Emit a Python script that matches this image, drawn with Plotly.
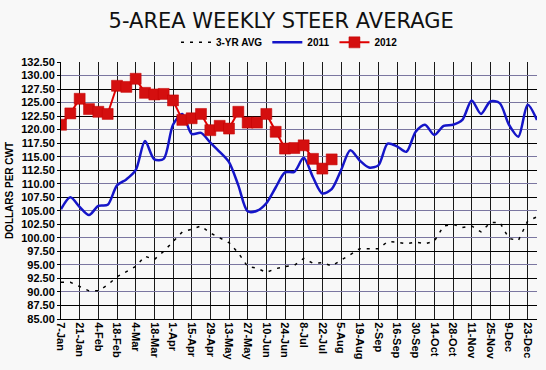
import plotly.graph_objects as go

week_labels = ["7-Jan", "21-Jan", "4-Feb", "18-Feb", "4-Mar", "18-Mar", "1-Apr", "15-Apr",
               "29-Apr", "13-May", "27-May", "10-Jun", "24-Jun", "8-Jul", "22-Jul", "5-Aug",
               "19-Aug", "2-Sep", "16-Sep", "30-Sep", "14-Oct", "28-Oct", "11-Nov", "25-Nov",
               "9-Dec", "23-Dec"]

avg3 = [91.8, 91.8, 91.0, 90.2, 90.2, 91.3, 92.8, 93.8, 94.7, 96.6, 96.0, 97.5, 99.4,
        101.1, 101.6, 102.2, 100.9, 100.0, 99.1, 97.2, 94.7, 94.4, 93.6, 94.3, 94.7, 94.9,
        96.2, 95.3, 95.4, 94.8, 95.8, 96.9, 98.0, 98.0, 98.0, 99.3, 99.2, 98.9, 99.2, 98.9,
        99.4, 102.2, 102.5, 101.9, 102.2, 101.1, 102.8, 102.9, 99.9, 99.5, 103.1, 103.9]

y2011 = [105.3, 107.5, 105.7, 104.2, 105.9, 106.1, 109.7, 110.8, 112.5, 117.9, 114.5,
         114.6, 120.9, 122.9, 119.2, 119.4, 117.6, 115.9, 114.0, 109.7, 104.9, 105.0,
         106.4, 109.3, 112.1, 112.2, 114.8, 111.2, 108.2, 109.0, 112.5, 116.2, 114.3,
         113.0, 113.4, 117.4, 116.9, 115.9, 119.6, 120.9, 119.0, 120.7, 120.9, 121.8,
         125.4, 122.9, 125.2, 124.9, 120.9, 118.7, 124.6, 121.8]

y2012 = [120.9, 123.0, 125.7, 123.8, 123.3, 122.9, 128.1, 127.9, 129.4, 126.8, 126.5,
         126.6, 125.4, 121.8, 122.1, 122.9, 119.9, 120.7, 120.2, 123.3, 121.3, 121.3,
         122.9, 119.6, 116.5, 116.6, 117.1, 114.6, 112.8, 114.5]

weeks_avg = list(range(len(avg3)))
weeks_2011 = list(range(len(y2011)))
weeks_2012 = list(range(len(y2012)))
tick_pos = list(range(0, 2 * len(week_labels), 2))

fig = go.Figure()
fig.add_trace(go.Scatter(x=weeks_avg, y=avg3, name="3-YR AVG", mode="lines",
                         line=dict(color="black", width=1.5, dash="3px,6px"), yaxis="y2"))
fig.add_trace(go.Scatter(x=weeks_2011, y=y2011, name="2011", mode="lines",
                         line=dict(color="#1515c8", width=2.5, shape="spline", smoothing=0.8)))
fig.add_trace(go.Scatter(x=weeks_2012, y=y2012, name="2012", mode="lines+markers",
                         line=dict(color="#e00000", width=2),
                         marker=dict(symbol="square", size=11, color="#d40f0f",
                                     line=dict(color="#c00000", width=0.5))))

yr = [85, 132.5]
fig.update_layout(
    width=546, height=370,
    margin=dict(l=61, r=9, t=62, b=51, autoexpand=False),
    paper_bgcolor="#f8f8f8", plot_bgcolor="#f8f8f8",
    title=dict(text="5-AREA WEEKLY STEER AVERAGE", x=0.515, xanchor="center", y=0.945,
               yanchor="middle", font=dict(family="DejaVu Sans", size=21, color="#111")),
    showlegend=True,
    legend=dict(orientation="h", x=0.48, xanchor="center", y=1.02, yanchor="bottom",
                font=dict(family="Liberation Sans", size=10, color="black", weight="bold"),
                bgcolor="rgba(0,0,0,0)", itemwidth=30, tracegroupgap=0),
    xaxis=dict(range=[0, 51], tickmode="array", tickvals=tick_pos, ticktext=week_labels,
               tickangle=90, showgrid=True, gridcolor="#1a1a1a", gridwidth=1,
               showline=True, linecolor="black", linewidth=1, ticks="", zeroline=False,
               automargin=False,
               tickfont=dict(family="Liberation Sans", size=11, color="black", weight="bold")),
    yaxis=dict(range=yr, dtick=2.5, tick0=85, tickformat=".2f", showgrid=True,
               gridcolor="#7a76a0", gridwidth=1, showline=True, linecolor="black",
               linewidth=1, ticks="outside", ticklen=3, tickcolor="black", zeroline=False,
               automargin=False,
               tickfont=dict(family="Liberation Sans", size=11, color="black", weight="bold"),
               title=dict(text="DOLLARS PER CWT", standoff=5,
                          font=dict(family="Liberation Sans", size=10, color="black",
                                    weight="bold"))),
    yaxis2=dict(range=yr, overlaying="y", dtick=5, tick0=2.5, showgrid=True,
                gridcolor="black", gridwidth=1, showticklabels=False, ticks="",
                zeroline=False, showline=False, automargin=False),
)

fig.write_html("out.html", config={"displayModeBar": False},
               post_script="document.body.style.margin='0';"
                           "document.body.style.background='#f8f8f8';")
